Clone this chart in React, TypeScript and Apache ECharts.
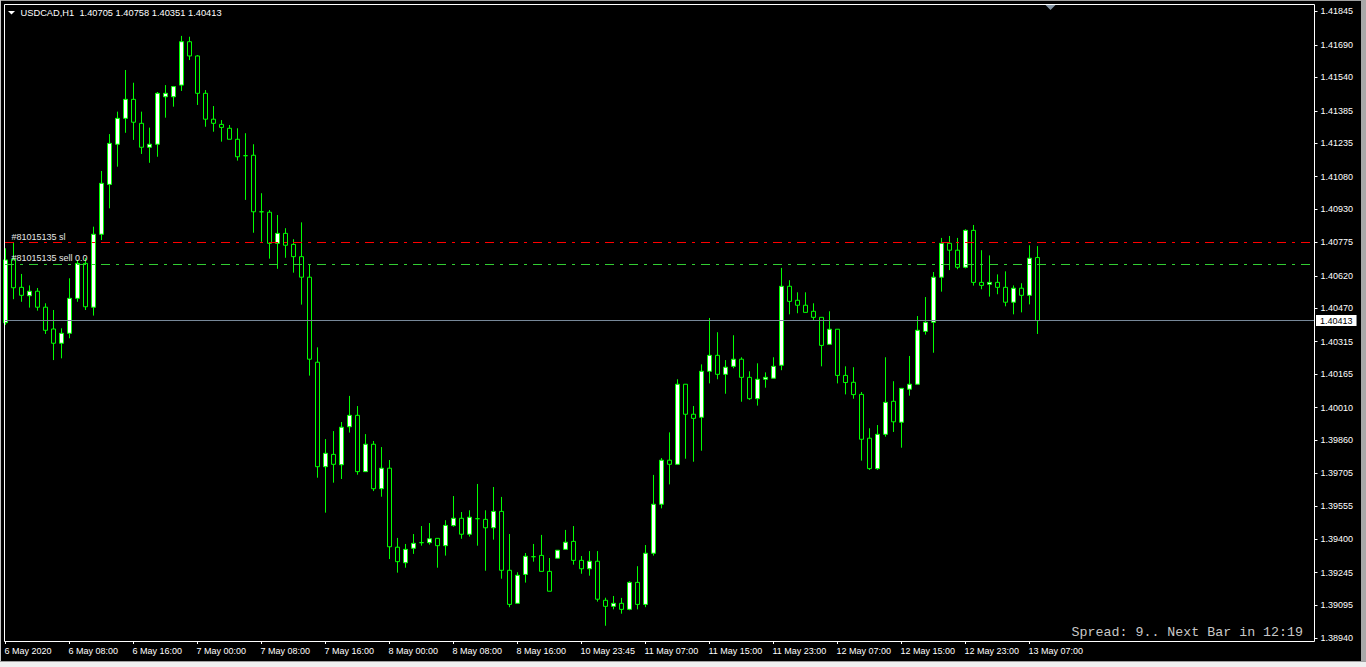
import React, { useEffect, useRef } from "react";
import * as echarts from "echarts";

// ---- data (USDCAD, H1) ----
const opens = [
  1.40403, 1.40697, 1.40567, 1.40528, 1.40549, 1.40475, 1.40374, 1.40308, 1.40354, 1.40516,
  1.40678, 1.40475, 1.40813, 1.41044, 1.4123, 1.4135, 1.41438, 1.41327, 1.41216, 1.4123,
  1.4145, 1.4145, 1.41504, 1.41705, 1.41639, 1.41466, 1.41346, 1.41322, 1.41304, 1.41253,
  1.41177, 1.41179, 1.40917, 1.40915, 1.40771, 1.40817, 1.40766, 1.40709, 1.40614, 1.4022,
  1.39736, 1.39793, 1.39745, 1.39921, 1.39974, 1.39713, 1.3984, 1.39634, 1.39729, 1.39363,
  1.39291, 1.39358, 1.39384, 1.39384, 1.39404, 1.3937, 1.39463, 1.39497, 1.39423, 1.39495,
  1.39492, 1.39453, 1.39529, 1.39256, 1.39103, 1.39237, 1.39319, 1.39325, 1.39251, 1.39312,
  1.39353, 1.3939, 1.39302, 1.39263, 1.39298, 1.39117, 1.39089, 1.39103, 1.39075, 1.392,
  1.39098, 1.39335, 1.39562, 1.39766, 1.39747, 1.40118, 1.39979, 1.39965, 1.40178, 1.40252,
  1.40164, 1.40201, 1.40234, 1.4015, 1.40051, 1.40141, 1.40146, 1.40206, 1.40572, 1.40507,
  1.40484, 1.40456, 1.40428, 1.40303, 1.40373, 1.40159, 1.40127, 1.40071, 1.39868, 1.39727,
  1.39886, 1.40039, 1.39942, 1.40095, 1.40118, 1.40363, 1.40405, 1.40614, 1.40771, 1.40739,
  1.4066, 1.40831, 1.4059, 1.40581, 1.4059, 1.40567, 1.40498, 1.40563, 1.4053, 1.40705,
];
const highs = [
  1.40748, 1.40776, 1.40629, 1.40576, 1.40564, 1.40493, 1.40462, 1.40377, 1.40609, 1.40694,
  1.40703, 1.40848, 1.41106, 1.41277, 1.41381, 1.41574, 1.41515, 1.41381, 1.41307, 1.41472,
  1.41504, 1.415, 1.41732, 1.41728, 1.41643, 1.41481, 1.41407, 1.41342, 1.41319, 1.41304,
  1.41281, 1.4123, 1.41003, 1.40925, 1.40902, 1.40841, 1.4079, 1.40868, 1.40674, 1.40289,
  1.39864, 1.39901, 1.39943, 1.40064, 1.40017, 1.39887, 1.39855, 1.39827, 1.39767, 1.39406,
  1.39378, 1.39424, 1.39461, 1.39475, 1.39404, 1.39488, 1.396, 1.39526, 1.39534, 1.39656,
  1.39534, 1.39642, 1.39596, 1.39424, 1.39247, 1.39336, 1.39378, 1.3942, 1.39313, 1.39349,
  1.39443, 1.39461, 1.39322, 1.39345, 1.39345, 1.39129, 1.39137, 1.39128, 1.39205, 1.39275,
  1.39373, 1.39698, 1.39776, 1.39895, 1.40141, 1.40118, 1.40017, 1.4021, 1.40425, 1.40359,
  1.4023, 1.40345, 1.40243, 1.40178, 1.40215, 1.40173, 1.40243, 1.40657, 1.406, 1.40544,
  1.40544, 1.40493, 1.40428, 1.40456, 1.40373, 1.40201, 1.40197, 1.40082, 1.39914, 1.39929,
  1.40243, 1.40132, 1.40099, 1.40249, 1.40434, 1.40522, 1.40638, 1.40796, 1.40805, 1.40796,
  1.40836, 1.40856, 1.40739, 1.40715, 1.40627, 1.40641, 1.40576, 1.40586, 1.40762, 1.40758,
];
const lows = [
  1.40393, 1.40512, 1.405, 1.40473, 1.40459, 1.40351, 1.4023, 1.40238, 1.40331, 1.405,
  1.40462, 1.40436, 1.40786, 1.40933, 1.41126, 1.41283, 1.4125, 1.41185, 1.41144, 1.41172,
  1.41353, 1.41404, 1.41477, 1.4162, 1.41412, 1.41311, 1.41288, 1.41242, 1.41253, 1.41154,
  1.40972, 1.4082, 1.40778, 1.407, 1.40653, 1.40704, 1.40635, 1.40487, 1.40158, 1.39685,
  1.39523, 1.39662, 1.39679, 1.39894, 1.39699, 1.39713, 1.39623, 1.39597, 1.39308, 1.39245,
  1.39268, 1.39332, 1.3937, 1.39375, 1.39268, 1.39324, 1.39458, 1.39402, 1.39412, 1.3937,
  1.39254, 1.39398, 1.39217, 1.39085, 1.39103, 1.39199, 1.39296, 1.39251, 1.39159, 1.39312,
  1.39353, 1.39282, 1.3924, 1.39231, 1.39111, 1.38999, 1.39075, 1.39055, 1.39071, 1.39075,
  1.39085, 1.39324, 1.39543, 1.39654, 1.39747, 1.39773, 1.39759, 1.3981, 1.40122, 1.40141,
  1.40074, 1.40192, 1.40037, 1.40046, 1.40019, 1.40102, 1.40146, 1.40183, 1.40442, 1.40447,
  1.40451, 1.40416, 1.40201, 1.40303, 1.40122, 1.40071, 1.40051, 1.39764, 1.39721, 1.39721,
  1.39875, 1.39897, 1.39824, 1.40065, 1.40118, 1.40348, 1.40264, 1.40547, 1.40647, 1.40651,
  1.40655, 1.40575, 1.40558, 1.40524, 1.40535, 1.40479, 1.40442, 1.40451, 1.40488, 1.40351,
];
const closes = [
  1.40694, 1.40565, 1.4053, 1.40549, 1.40475, 1.40368, 1.40308, 1.40354, 1.40516, 1.40678,
  1.40477, 1.40813, 1.41049, 1.41234, 1.4135, 1.41438, 1.41332, 1.41216, 1.4123, 1.41466,
  1.41466, 1.41497, 1.41705, 1.41639, 1.41466, 1.41346, 1.41327, 1.41308, 1.41253, 1.41172,
  1.41177, 1.40917, 1.40917, 1.40771, 1.40817, 1.40762, 1.40709, 1.40614, 1.40234, 1.39736,
  1.39798, 1.39747, 1.39919, 1.39974, 1.39713, 1.3984, 1.39634, 1.39729, 1.39365, 1.39296,
  1.39353, 1.39381, 1.39384, 1.39402, 1.3937, 1.39464, 1.39497, 1.39423, 1.39502, 1.39495,
  1.39453, 1.39529, 1.39256, 1.39098, 1.39233, 1.39321, 1.39319, 1.39251, 1.39159, 1.39349,
  1.39386, 1.39302, 1.39263, 1.39298, 1.39122, 1.39089, 1.39103, 1.39075, 1.392, 1.39098,
  1.39335, 1.39562, 1.39766, 1.39747, 1.40118, 1.39979, 1.3996, 1.40178, 1.40252, 1.40164,
  1.40197, 1.40234, 1.4015, 1.40051, 1.40141, 1.4015, 1.40201, 1.40572, 1.40502, 1.40484,
  1.40451, 1.40428, 1.40298, 1.40373, 1.40159, 1.40126, 1.4007, 1.39863, 1.39727, 1.39886,
  1.40034, 1.39944, 1.40099, 1.40118, 1.40368, 1.40405, 1.40614, 1.40771, 1.40739, 1.4066,
  1.40831, 1.4059, 1.40576, 1.4059, 1.40567, 1.40498, 1.40563, 1.4053, 1.40702, 1.40413,
];

// bar times: [day label, first hour, last hour]
const sessions: [string, number, number][] = [
  ["6 May", 0, 23],
  ["7 May", 0, 23],
  ["8 May", 0, 23],
  ["10 May", 23, 23],
  ["11 May", 0, 23],
  ["12 May", 0, 23],
  ["13 May", 0, 8],
];
const firstLabel = "6 May 2020";
const sundayOpenMinute = "45";

const priceTicks = [
  "1.41845", "1.41690", "1.41540", "1.41385", "1.41235", "1.41080", "1.40930",
  "1.40775", "1.40620", "1.40470", "1.40315", "1.40165", "1.40010", "1.39860",
  "1.39705", "1.39555", "1.39400", "1.39245", "1.39095", "1.38940",
];

const stopLoss = 1.40775;
const sellPrice = 1.40673;
const lastPrice = 1.40413;
const titleText = "USDCAD,H1  1.40705 1.40758 1.40351 1.40413";
const slLabel = "#81015135 sl";
const sellLabel = "#81015135 sell 0.0";
const spreadText = "Spread: 9.. Next Bar in 12:19";

const TOTAL_SLOTS = 164;

function buildCategories(): string[] {
  const cats: string[] = [];
  for (const [day, h0, h1] of sessions) {
    for (let h = h0; h <= h1; h++) {
      const mm = day === "10 May" ? sundayOpenMinute : "00";
      cats.push(`${day} ${String(h).padStart(2, "0")}:${mm}`);
    }
  }
  return cats;
}

export default function App() {
  const ref = useRef<HTMLDivElement>(null);

  useEffect(() => {
    if (!ref.current) return;
    const chart = echarts.init(ref.current, undefined, { renderer: "svg" });
    const barCats = buildCategories();
    const nBars = barCats.length;
    const cats = [...barCats];
    for (let i = nBars; i < TOTAL_SLOTS; i++) cats.push(`pad${i}`);
    const ohlc = opens.map((o, i) => [o, closes[i], lows[i], highs[i]]);
    const showIdx = (i: number) => i % 8 === 0 && i < nBars;
    const tickVals = priceTicks.map((t) => parseFloat(t));
    const font = "Liberation Sans, Arial, sans-serif";

    chart.setOption({
      animation: false,
      backgroundColor: "#000000",
      grid: { left: 5.5, top: 5, width: 1304, height: 636 },
      xAxis: {
        type: "category",
        data: cats,
        boundaryGap: false,
        axisLine: { show: false },
        axisTick: {
          show: true,
          interval: (i: number) => showIdx(i),
          length: 3,
          lineStyle: { color: "#ffffff", width: 1 },
        },
        axisLabel: {
          interval: (i: number) => showIdx(i),
          formatter: (v: string, i: number) => (i === 0 ? firstLabel : v),
          align: "left",
          color: "#ffffff",
          fontSize: 9,
          fontFamily: font,
          margin: 5,
          padding: [0, 0, 0, -1],
        },
        splitLine: { show: false },
      },
      yAxis: {
        type: "value",
        position: "right",
        offset: 5,
        min: 1.389284,
        max: 1.418751,
        scale: true,
        axisLine: { show: false },
        axisTick: {
          show: true,
          length: 3,
          customValues: tickVals,
          lineStyle: { color: "#ffffff", width: 1 },
        },
        axisLabel: {
          customValues: tickVals,
          formatter: (v: number) => v.toFixed(5),
          color: "#ffffff",
          fontSize: 9,
          fontFamily: font,
          margin: 6,
        },
        splitLine: { show: false },
      },
      series: [
        {
          type: "candlestick",
          data: ohlc,
          barWidth: 4,
          clip: true,
          itemStyle: {
            color: "#ffffff",
            color0: "#000000",
            borderColor: "#00ff00",
            borderColor0: "#00ff00",
            borderWidth: 1,
          },
          emphasis: { disabled: true },
          markLine: {
            silent: true,
            symbol: ["none", "none"],
            animation: false,
            data: [
              [
                { coord: [0, stopLoss], x: 5, lineStyle: { color: "#ff0000", width: 1, type: [9, 6, 3, 6] }, label: { show: false } },
                { coord: [0, stopLoss], x: 1314 },
              ],
              [
                { coord: [0, sellPrice], x: 5, lineStyle: { color: "#32cd32", width: 1, type: [9, 6, 3, 6] }, label: { show: false } },
                { coord: [0, sellPrice], x: 1314 },
              ],
              [
                {
                  coord: [0, lastPrice],
                  x: 5,
                  lineStyle: { color: "#778899", width: 1, type: "solid" },
                  label: {
                    show: true,
                    position: "end",
                    formatter: lastPrice.toFixed(5),
                    backgroundColor: "#ffffff",
                    color: "#000000",
                    fontSize: 9,
                    fontFamily: font,
                    padding: [1, 4, 1, 4],
                    distance: 2,
                  },
                },
                { coord: [0, lastPrice], x: 1314 },
              ],
            ],
          },
        },
      ],
      graphic: [
        // window chrome
        { type: "rect", z: 90, shape: { x: 0, y: 0, width: 1366, height: 1 }, style: { fill: "#a0a0a0" } },
        { type: "rect", z: 90, shape: { x: 0, y: 0, width: 1, height: 667 }, style: { fill: "#c8c8c8" } },
        { type: "rect", z: 90, shape: { x: 1361, y: 0, width: 5, height: 667 }, style: { fill: "#a8a8a8" } },
        { type: "rect", z: 90, shape: { x: 0, y: 661, width: 1366, height: 6 }, style: { fill: "#f0f0f0" } },
        { type: "rect", z: 91, shape: { x: 0, y: 661, width: 1366, height: 1 }, style: { fill: "#a0a0a0" } },
        // chart frame
        {
          type: "rect",
          z: 95,
          shape: { x: 4.5, y: 4.5, width: 1310, height: 637 },
          style: { fill: "none", stroke: "#ffffff", lineWidth: 1 },
        },
        // chart shift marker
        {
          type: "polygon",
          z: 96,
          shape: { points: [[1045.5, 5], [1055.5, 5], [1050.5, 10]] },
          style: { fill: "#8494a4" },
        },
        // title
        {
          type: "polygon",
          z: 96,
          shape: { points: [[8, 11], [15, 11], [11.5, 14.5]] },
          style: { fill: "#ffffff" },
        },
        {
          type: "text",
          z: 96,
          x: 20.5,
          y: 12.7,
          style: { text: titleText, fill: "#ffffff", font: `9.3px ${font}`, verticalAlign: "middle", align: "left" },
        },
        // order labels
        {
          type: "text",
          z: 96,
          x: 11.5,
          y: 236.7,
          style: { text: slLabel, fill: "#e6e6e6", font: `9px ${font}`, verticalAlign: "middle", align: "left" },
        },
        {
          type: "text",
          z: 96,
          x: 11.5,
          y: 258.3,
          style: { text: sellLabel, fill: "#e6e6e6", font: `9px ${font}`, verticalAlign: "middle", align: "left" },
        },
        // spread info
        {
          type: "text",
          z: 96,
          x: 1303,
          y: 632.5,
          style: {
            text: spreadText,
            fill: "#c8c8c8",
            font: "13.3px Liberation Mono, Courier New, monospace",
            verticalAlign: "middle",
            align: "right",
          },
        },
      ],
    });
    return () => chart.dispose();
  }, []);

  return (
    <div
      ref={ref}
      style={{ position: "fixed", left: 0, top: 0, width: 1366, height: 667, background: "#000" }}
    />
  );
}
